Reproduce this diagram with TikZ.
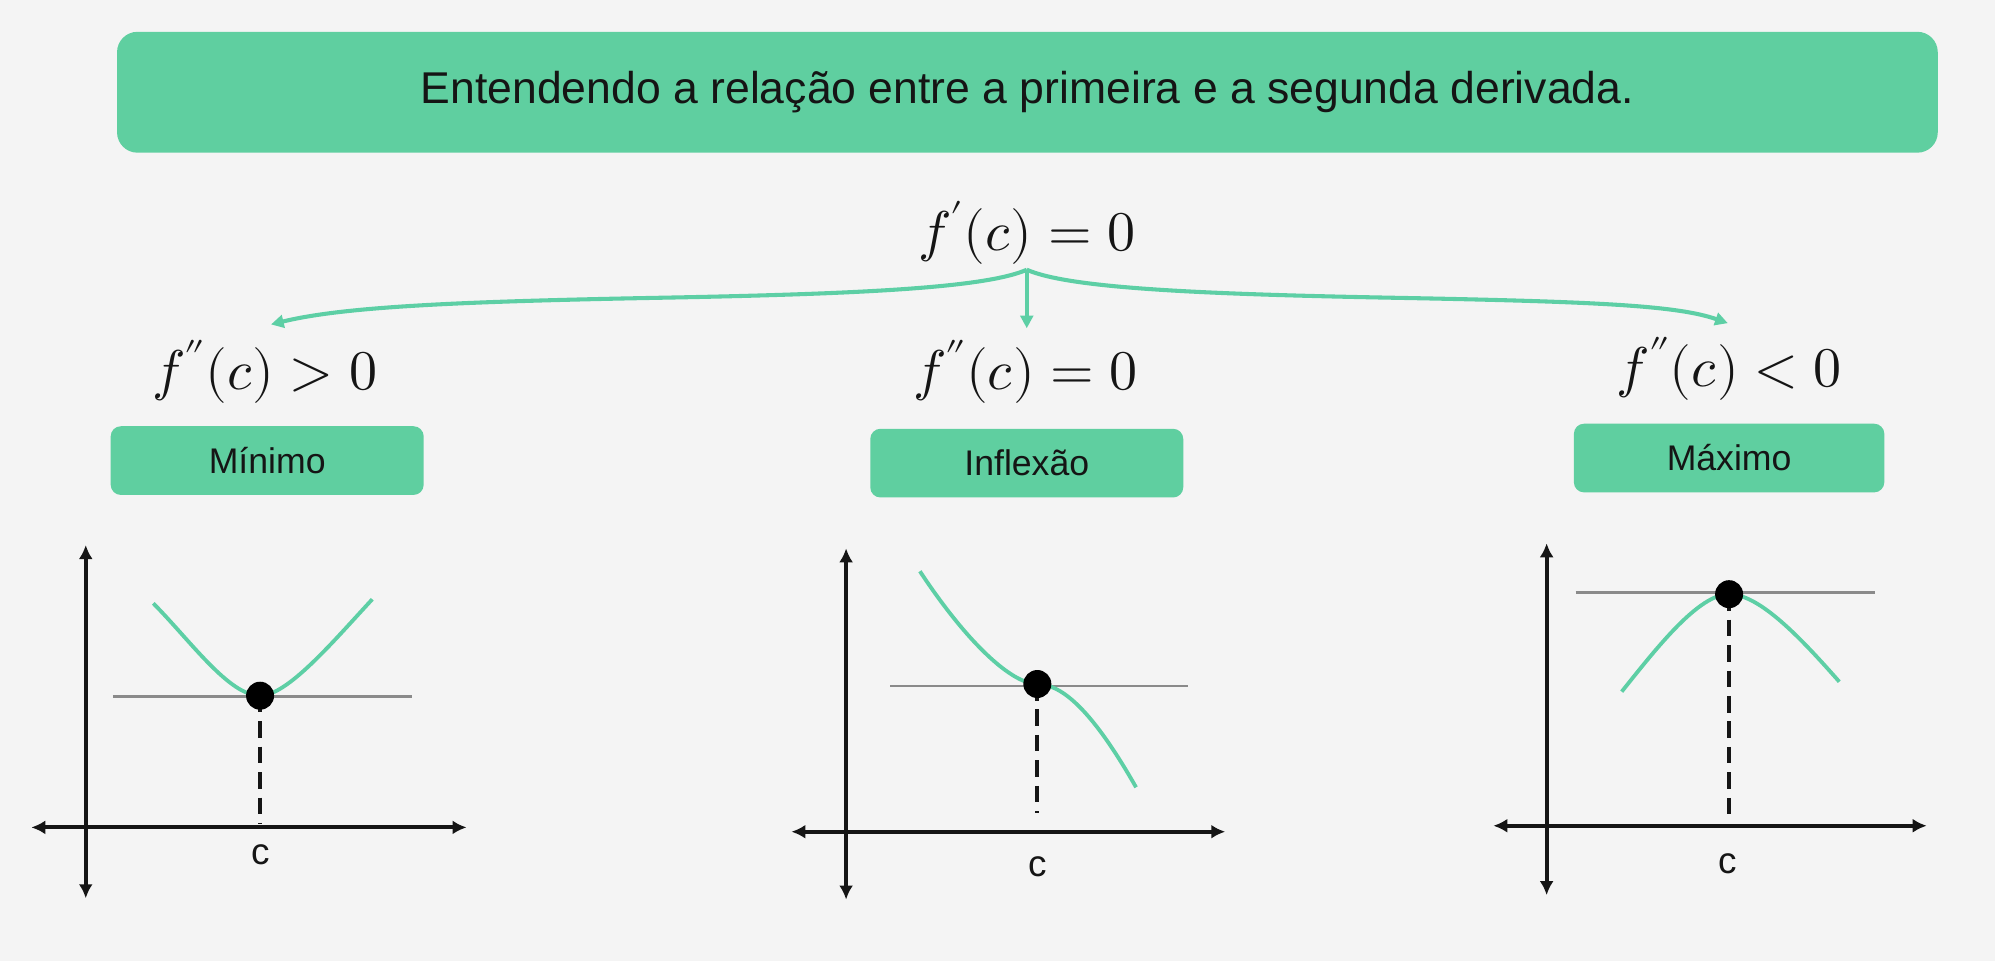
\documentclass[tikz,border=0pt]{standalone}
\usepackage{fontspec}
\usepackage{unicode-math}
\setmainfont{Liberation Sans}
\usetikzlibrary{arrows.meta}
\definecolor{bgc}{HTML}{F4F4F4}
\definecolor{mint}{HTML}{5FCFA0}
\definecolor{mintline}{HTML}{5DCFA5}
\definecolor{inkc}{HTML}{151515}
\definecolor{tang}{HTML}{8A8A8A}
\tikzset{
  titlebox/.style={fill=mint, rounded corners=16pt, minimum width=1431pt, minimum height=95pt, inner sep=0pt, text=inkc, font=\fontsize{35}{42}\selectfont},
  labelbox/.style={fill=mint, rounded corners=8pt, minimum height=54pt, inner sep=0pt, text=inkc, font=\fontsize{28}{34}\selectfont},
  mathlbl/.style={inner sep=0pt, text=inkc, font=\fontsize{44}{52}\selectfont},
  clbl/.style={inner sep=0pt, text=inkc, font=\fontsize{29}{34}\selectfont},
  garrow/.style={draw=mintline, line width=3.2pt, -{Triangle[length=10pt,width=10pt]}},
  axisline/.style={draw=inkc, line width=3pt, {Latex[length=11pt,width=11pt]}-{Latex[length=11pt,width=11pt]}},
  curveline/.style={draw=mintline, line width=3pt},
  tanline/.style={draw=tang, line width=2pt},
  dropline/.style={draw=inkc, line width=3pt, dash pattern=on 13pt off 7pt},
  dotmark/.style={fill=black}
}
\begin{document}
\begin{tikzpicture}[x=1pt,y=-1pt]
\fill[bgc] (0,0) rectangle (1568,755);
\useasboundingbox (0,0) rectangle (1568,755);

% title
\node[titlebox] (title) at (807.5,72.5) {Entendendo a relação entre a primeira e a segunda derivada.};

% first derivative
\node[mathlbl] (fp) at (807,183) {$f'(c)=0$};
\coordinate (fork) at (807,212);
\coordinate (tipL) at (213,255);
\coordinate (tipM) at (807,258);
\coordinate (tipR) at (1358,254);
\draw[garrow] (fork) .. controls (775,226) and (680,231) .. (520,234) .. controls (360,237) and (270,241) .. (tipL);
\draw[garrow] (fork) -- (tipM);
\draw[garrow] (fork) .. controls (839,226) and (934,231) .. (1094,234) .. controls (1254,237) and (1318,240) .. (tipR);

% second derivative
\node[mathlbl] (fppos) at (208,292) {$f''(c)>0$};
\node[mathlbl] (fpzero) at (806,292) {$f''(c)=0$};
\node[mathlbl] (fpneg) at (1359,290) {$f''(c)<0$};

% boxes
\node[labelbox, minimum width=246pt] (bmin) at (210,362) {Mínimo};
\node[labelbox, minimum width=246pt] (binf) at (807,364) {Inflexão};
\node[labelbox, minimum width=244pt] (bmax) at (1359,360) {Máximo};

% ---- graph 1: minimum
\draw[axisline] (67.4,428.4) -- (67.4,706);
\draw[axisline] (24.6,650.3) -- (366.7,650.3);
\draw[tanline] (88.8,547.3) -- (323.5,547.3);
\draw[curveline] (120.5,474.2) .. controls (150,504) and (180,546.8) .. (204.4,546.8)
  .. controls (226,546.8) and (262,504) .. (292.6,471);
\coordinate (d1) at (204.4,546.8);
\coordinate (f1) at (204.4,647);
\draw[dropline] (d1) -- (f1);
\fill[dotmark] (d1) circle (11pt);
\node[clbl] (c1) at (204.6,672) {c};

% ---- graph 2: inflection
\draw[axisline] (665,431) -- (665,707);
\draw[axisline] (622,653.7) -- (963,653.7);
\draw[tanline] (699.5,539) -- (934,539);
\draw[curveline] (723,449) .. controls (760,505) and (795,537.6) .. (815.3,537.6)
  .. controls (832,538) and (855,552) .. (892.9,618.8);
\coordinate (d2) at (815.3,537.6);
\coordinate (f2) at (815.3,639);
\draw[dropline] (d2) -- (f2);
\fill[dotmark] (d2) circle (11pt);
\node[clbl] (c2) at (815.3,681) {c};

% ---- graph 3: maximum
\draw[axisline] (1215.6,427) -- (1215.6,703.5);
\draw[axisline] (1173.7,649) -- (1514.3,649);
\draw[tanline] (1238.4,465.6) -- (1473.7,465.6);
\draw[curveline] (1274.6,543.6) .. controls (1302.6,508.6) and (1335,467) .. (1359,467)
  .. controls (1383,467) and (1415.6,501.8) .. (1445.6,535.8);
\coordinate (d3) at (1359,467);
\coordinate (f3) at (1359,642);
\draw[dropline] (d3) -- (f3);
\fill[dotmark] (d3) circle (11pt);
\node[clbl] (c3) at (1357.6,678.5) {c};
\end{tikzpicture}
\end{document}
